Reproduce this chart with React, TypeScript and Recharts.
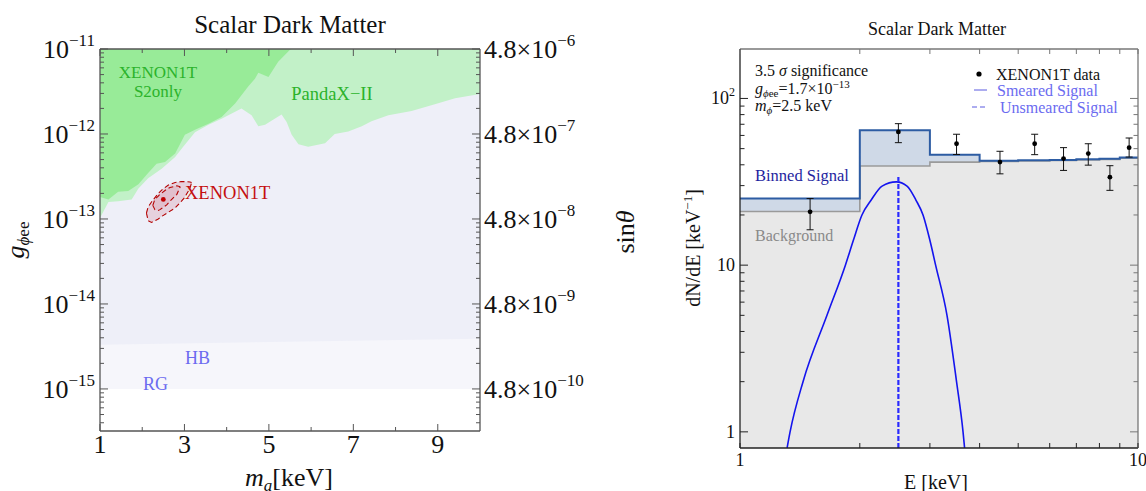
import React from 'react';
import { ComposedChart, Area, Line, Scatter, ErrorBar, XAxis, YAxis } from 'recharts';

const FONT = '"Liberation Serif", "Times New Roman", Times, serif';

// ---------- left panel: coupling vs. mass ----------
const massTicks = [1, 2, 3, 4, 5, 6, 7, 8, 9];
const massTickLabels = ['1', '', '3', '', '5', '', '7', '', '9'];
const gDecades = [-11, -12, -13, -14, -15];
const sinThetaMantissa = '4.8';
const sinThetaExponents = [-6, -7, -8, -9, -10];

// XENON1T S2-only exclusion: lower edge, log10 g (region runs up to the frame)
const s2onlyMass = [1.0, 1.2, 1.43, 1.67, 1.91, 2.14, 2.34, 2.54, 2.78, 3.01, 3.25, 3.57, 3.88, 4.2, 4.51, 4.67, 4.75, 4.99, 5.22, 5.5, 5.54];
const s2onlyLogG = [-12.74, -12.77, -12.68, -12.67, -12.59, -12.46, -12.35, -12.33, -12.23, -12.01, -11.95, -11.88, -11.8, -11.64, -11.44, -11.35, -11.28, -11.33, -11.15, -11.01, -11.0];

// PandaX-II exclusion: lower edge
const pandaxMass = [1.0, 1.2, 1.43, 1.75, 1.91, 2.14, 2.46, 2.78, 2.97, 3.25, 3.57, 3.88, 4.12, 4.35, 4.59, 4.75, 4.91, 5.07, 5.3, 5.42, 5.54, 5.7, 5.93, 6.33, 6.56, 6.88, 7.2, 7.43, 7.83, 8.38, 8.93, 9.41, 10.0];
const pandaxLogG = [-12.99, -12.8, -12.79, -12.77, -12.64, -12.52, -12.41, -12.27, -12.15, -11.98, -11.89, -11.82, -11.76, -11.7, -11.78, -11.91, -11.89, -11.84, -11.77, -11.86, -12.01, -12.12, -12.15, -12.11, -12.0, -11.97, -11.91, -11.85, -11.78, -11.73, -11.65, -11.58, -11.53];

// stellar cooling bounds (lower edges)
const hbMass = [1, 10];
const hbLogG = [-14.48, -14.41];
const rgMass = [1, 10];
const rgLogG = [-15, -15];
const frameTopLogG = -11;

// XENON1T best-fit contours (lower / upper edge)
const outerMass = [2.1, 2.14, 2.22, 2.38, 2.46, 2.62, 2.78, 2.93, 3.0, 3.13, 3.17];
const outerLow = [-12.93, -13.02, -13.04, -13.0, -12.97, -12.92, -12.87, -12.79, -12.75, -12.64, -12.57];
const outerHigh = [-12.93, -12.86, -12.8, -12.7, -12.66, -12.6, -12.57, -12.56, -12.56, -12.565, -12.57];
const innerMass = [2.25, 2.3, 2.38, 2.42, 2.58, 2.66, 2.82, 2.9];
const innerLow = [-12.84, -12.89, -12.9, -12.89, -12.835, -12.79, -12.71, -12.62];
const innerHigh = [-12.84, -12.77, -12.73, -12.71, -12.65, -12.63, -12.61, -12.62];
const bestFitMass = [2.5];
const bestFitG = [1.7e-13];

// ---------- right panel: spectrum ----------
const binEdges = [1, 2, 3, 4, 5, 6, 7, 8, 9, 10];
const signalRate = [25.1, 64.4, 46.0, 42.3, 42.6, 42.8, 43.2, 43.5, 44.2];
const backgroundRate = [21.0, 39.3, 41.5, 41.9, 42.2, 42.4, 42.8, 43.1, 43.8];
const dataEnergy = [1.5, 2.5, 3.5, 4.5, 5.5, 6.5, 7.5, 8.5, 9.5];
const dataRate = [20.9, 63.0, 53.5, 41.5, 53.5, 43.6, 46.7, 33.7, 50.7];
const dataLow = [16.3, 54.3, 46.1, 35.3, 46.0, 37.0, 39.8, 28.1, 44.5];
const dataHigh = [25.1, 70.6, 61.0, 48.2, 61.0, 50.7, 53.5, 39.5, 57.9];
const smearedEnergy = [1.313, 1.336, 1.44, 1.654, 1.84, 1.927, 2.025, 2.134, 2.275, 2.47, 2.628, 2.769, 2.883, 3.0, 3.101, 3.312, 3.5, 3.634, 3.667];
const smearedRate = [0.8, 1.0, 2.0, 5.0, 10, 14.1, 20, 24.5, 29.8, 31.6, 29.8, 24.5, 20, 14.1, 10, 5.0, 2.0, 1.0, 0.8];
const unsmearedEnergy = [2.5, 2.5];
const unsmearedRate = [0.8, 34];
const energyTicks = [1, 2, 3, 4, 5, 6, 7, 8, 9, 10];

// ---------- tables ----------
const band = (ms: number[], lo: number[], hi: number[]) =>
  ms.map((m, i) => ({ m, band: [10 ** lo[i], 10 ** hi[i]] }));
const toTop = (ms: number[]) => ms.map(() => frameTopLogG);

const rgData = band(rgMass, rgLogG, toTop(rgMass));
const hbData = band(hbMass, hbLogG, toTop(hbMass));
const pandaxData = band(pandaxMass, pandaxLogG, toTop(pandaxMass));
const s2onlyData = band(s2onlyMass, s2onlyLogG, toTop(s2onlyMass));
const outerData = band(outerMass, outerLow, outerHigh);
const innerData = band(innerMass, innerLow, innerHigh);
const bestFitData = bestFitMass.map((m, i) => ({ m, g: bestFitG[i] }));

const stepData = binEdges.map((e, i) => ({
  e,
  sig: signalRate[Math.min(i, signalRate.length - 1)],
  bg: backgroundRate[Math.min(i, backgroundRate.length - 1)],
}));
const pointData = dataEnergy.map((e, i) => ({ e, v: dataRate[i], err: [dataRate[i] - dataLow[i], dataHigh[i] - dataRate[i]] }));
const smearedData = smearedEnergy.map((e, i) => ({ e, v: smearedRate[i] }));
const unsmearedData = unsmearedEnergy.map((e, i) => ({ e, v: unsmearedRate[i] }));

const logTicks = (fromExp: number, toExp: number, min: number, max: number) => {
  const out: number[] = [];
  for (let d = fromExp; d <= toExp; d++) {
    for (let k = 1; k <= 9; k++) {
      const v = k * 10 ** d;
      if (v >= min * 0.999 && v <= max * 1.001) out.push(v);
    }
  }
  return out;
};
const isDecade = (v: number) => Math.abs(Math.log10(v) - Math.round(Math.log10(v))) < 1e-6;

const G_MIN = 3.2e-16;
const G_MAX = 1e-11;
const gTicks = logTicks(-16, -11, G_MIN, G_MAX);
const R_MIN = 0.8;
const R_MAX = 198;
const rateTicks = logTicks(0, 2, R_MIN, R_MAX);

const FRAME = '#555';

// ---------- tick renderers (ticks point into the frame) ----------
const gLeftTick = (p: any) => {
  const { x, y, payload } = p;
  const v = payload.value;
  const major = isDecade(v);
  const e = Math.round(Math.log10(v));
  return (
    <g>
      <line x1={x} y1={y} x2={x + (major ? 8 : 4)} y2={y} stroke={FRAME} />
      {major && (
        <text x={x - 5} y={y + 9} textAnchor="end" fontSize={26} fontFamily={FONT} fill="#111">
          10<tspan dy={-12} fontSize={17}>{`−${-e}`}</tspan>
        </text>
      )}
    </g>
  );
};

const sinThetaTick = (p: any) => {
  const { x, y, payload } = p;
  const v = payload.value;
  const major = isDecade(v);
  const idx = gDecades.indexOf(Math.round(Math.log10(v)));
  return (
    <g>
      <line x1={x} y1={y} x2={x - (major ? 8 : 4)} y2={y} stroke={FRAME} />
      {major && idx >= 0 && (
        <text x={x + 4} y={y + 9} textAnchor="start" fontSize={26} fontFamily={FONT} fill="#111">
          {sinThetaMantissa}×10<tspan dy={-12} fontSize={17}>{`−${-sinThetaExponents[idx]}`}</tspan>
        </text>
      )}
    </g>
  );
};

const massBottomTick = (p: any) => {
  const { x, y, payload } = p;
  const i = massTicks.indexOf(payload.value);
  const label = massTickLabels[i] || '';
  return (
    <g>
      <line x1={x} y1={y} x2={x} y2={y - (label ? 7 : 4)} stroke={FRAME} />
      {label && (
        <text x={x} y={y + 22} textAnchor="middle" fontSize={26} fontFamily={FONT} fill="#111">
          {label}
        </text>
      )}
    </g>
  );
};

const massTopTick = (p: any) => {
  const { x, y, payload } = p;
  const i = massTicks.indexOf(payload.value);
  const label = massTickLabels[i] || '';
  return <line x1={x} y1={y} x2={x} y2={y + (label ? 7 : 4)} stroke={FRAME} />;
};

const energyBottomTick = (p: any) => {
  const { x, y, payload } = p;
  const v = payload.value;
  const label = v === 1 || v === 10 ? String(v) : '';
  return (
    <g>
      <line x1={x} y1={y} x2={x} y2={y - 5} stroke="#222" />
      {label && (
        <text x={x} y={y + 18} textAnchor="middle" fontSize={18} fontFamily={FONT} fill="#111">
          {label}
        </text>
      )}
    </g>
  );
};

const energyTopTick = (p: any) => {
  const { x, y } = p;
  return <line x1={x} y1={y} x2={x} y2={y + 5} stroke="#777" />;
};

const rateLeftTick = (p: any) => {
  const { x, y, payload } = p;
  const v = payload.value;
  const major = isDecade(v);
  let label: React.ReactNode = null;
  if (v === 1) label = '1';
  else if (v === 10) label = '10';
  else if (v === 100) label = (<>10<tspan dy={-8} fontSize={12}>2</tspan></>);
  return (
    <g>
      <line x1={x} y1={y} x2={x + (major ? 8 : 4.5)} y2={y} stroke="#222" />
      {label && (
        <text x={x - 5} y={y + 6} textAnchor="end" fontSize={18} fontFamily={FONT} fill="#111">
          {label}
        </text>
      )}
    </g>
  );
};

const rateRightTick = (p: any) => {
  const { x, y, payload } = p;
  const major = isDecade(payload.value);
  return <line x1={x} y1={y} x2={x - (major ? 8 : 4.5)} y2={y} stroke="#777" />;
};

const dataDot = (p: any) => <circle cx={p.cx} cy={p.cy} r={2.4} fill="#000" />;
const bestDot = (p: any) => <circle cx={p.cx} cy={p.cy} r={2.4} fill="#c00000" />;

const CONTOUR = '#b30000';
const GREEN_TEXT = '#2bb32b';
const BLUE_TEXT = '#6b6bf0';

const LEFT_MARGIN = { top: 39, right: 30, bottom: 30, left: 40 };
const RIGHT_MARGIN = { top: 39, right: 0, bottom: 13, left: 70 };

// axes for the left panel; drawn twice: under the series (for the scales) and on top (for the ticks)
const couplingAxes = (show: boolean) => {
  const line = show ? { stroke: FRAME, strokeWidth: 1.3 } : false;
  const common = { type: 'number' as const, allowDataOverflow: true, interval: 0 as const, tickLine: false, tickSize: 0, tickMargin: 0, axisLine: line };
  return [
    <XAxis key="xb" dataKey="m" domain={[1, 10]} ticks={massTicks} height={30} {...common} tick={show ? massBottomTick : false} />,
    <XAxis key="xt" xAxisId="top" orientation="top" dataKey="m" domain={[1, 10]} ticks={massTicks} height={10} {...common} tick={show ? massTopTick : false} />,
    <YAxis key="yl" yAxisId="g" scale="log" domain={[G_MIN, G_MAX]} ticks={gTicks} width={60} {...common} tick={show ? gLeftTick : false} />,
    <YAxis key="yr" yAxisId="s" orientation="right" scale="log" domain={[G_MIN, G_MAX]} ticks={gTicks} width={110} {...common} tick={show ? sinThetaTick : false} />,
  ];
};

const spectrumAxes = (show: boolean) => {
  const common = { type: 'number' as const, scale: 'log' as const, allowDataOverflow: true, interval: 0 as const, tickLine: false, tickSize: 0, tickMargin: 0 };
  return [
    <XAxis key="xb" dataKey="e" domain={[1, 10]} ticks={energyTicks} height={30} {...common}
      axisLine={show ? { stroke: '#222', strokeWidth: 1.3 } : false} tick={show ? energyBottomTick : false} />,
    <XAxis key="xt" xAxisId="top" orientation="top" dataKey="e" domain={[1, 10]} ticks={energyTicks} height={10} {...common}
      axisLine={show ? { stroke: '#777', strokeWidth: 1.3 } : false} tick={show ? energyTopTick : false} />,
    <YAxis key="yl" domain={[R_MIN, R_MAX]} ticks={rateTicks} width={50} {...common}
      axisLine={show ? { stroke: '#222', strokeWidth: 1.3 } : false} tick={show ? rateLeftTick : false} />,
    <YAxis key="yr" yAxisId="r" orientation="right" domain={[R_MIN, R_MAX]} ticks={rateTicks} width={8} {...common}
      axisLine={show ? { stroke: '#777', strokeWidth: 1.3 } : false} tick={show ? rateRightTick : false} />,
  ];
};

function CouplingChart() {
  return (
    <ComposedChart width={620} height={491} margin={LEFT_MARGIN}>
      <Area data={rgData} dataKey="band" yAxisId="g" type="linear" fill="#f6f6fb" fillOpacity={1} stroke="none" isAnimationActive={false} />
      <Area data={hbData} dataKey="band" yAxisId="g" type="linear" fill="#eeeff8" fillOpacity={1} stroke="none" isAnimationActive={false} />
      <Area data={pandaxData} dataKey="band" yAxisId="g" type="linear" fill="#c2f1c8" fillOpacity={1} stroke="none" isAnimationActive={false} />
      <Area data={s2onlyData} dataKey="band" yAxisId="g" type="linear" fill="#98eb98" fillOpacity={1} stroke="none" isAnimationActive={false} />
      <Area data={outerData} dataKey="band" yAxisId="g" type="linear" fill="#d9a5b5" fillOpacity={0.4} stroke={CONTOUR} strokeWidth={1.1} strokeDasharray="5 3" isAnimationActive={false} />
      <Area data={innerData} dataKey="band" yAxisId="g" type="linear" fill="#d9a5b5" fillOpacity={0.4} stroke={CONTOUR} strokeWidth={1.1} strokeDasharray="5 3" isAnimationActive={false} />
      <Scatter data={bestFitData} dataKey="g" yAxisId="g" shape={bestDot} isAnimationActive={false} />
      {couplingAxes(false)}
    </ComposedChart>
  );
}

function CouplingFrame() {
  return (
    <ComposedChart width={620} height={491} margin={LEFT_MARGIN} data={[{ m: 1 }, { m: 10 }]}>
      {couplingAxes(true)}
    </ComposedChart>
  );
}

function SpectrumChart() {
  return (
    <ComposedChart width={526} height={491} margin={RIGHT_MARGIN}>
      <Area data={stepData} dataKey="bg" type="stepAfter" baseValue="dataMin" fill="#e8e8e8" fillOpacity={1} stroke="none" isAnimationActive={false} />
      <Area data={stepData} dataKey={(d: any) => [d.bg, d.sig]} type="stepAfter" fill="#cfd9e7" fillOpacity={1} stroke="none" isAnimationActive={false} />
      <Line data={stepData} dataKey="bg" type="stepAfter" stroke="#9a9a9a" strokeWidth={1.6} dot={false} isAnimationActive={false} />
      <Line data={stepData} dataKey="sig" type="stepAfter" stroke="#2d5ca3" strokeWidth={2} dot={false} isAnimationActive={false} />
      <Line data={smearedData} dataKey="v" type="monotone" stroke="#1414ee" strokeWidth={1.6} dot={false} isAnimationActive={false} />
      <Line data={unsmearedData} dataKey="v" type="linear" stroke="#2a2aff" strokeWidth={2.2} strokeDasharray="5 2" dot={false} isAnimationActive={false} />
      <Scatter data={pointData} dataKey="v" shape={dataDot} isAnimationActive={false}>
        <ErrorBar dataKey="err" direction="y" width={3.5} stroke="#111" strokeWidth={1} />
      </Scatter>
      {spectrumAxes(false)}
    </ComposedChart>
  );
}

function SpectrumFrame() {
  return (
    <ComposedChart width={526} height={491} margin={RIGHT_MARGIN} data={[{ e: 1 }, { e: 10 }]}>
      {spectrumAxes(true)}
    </ComposedChart>
  );
}

function Labels() {
  return (
    <svg width={1146} height={491} style={{ position: 'absolute', left: 0, top: 0, pointerEvents: 'none' }} fontFamily={FONT}>
      {/* left panel */}
      <text x={290} y={33} textAnchor="middle" fontSize={25} fill="#111">Scalar Dark Matter</text>
      <text x={158} y={78} textAnchor="middle" fontSize={17} fill={GREEN_TEXT}>XENON1T</text>
      <text x={158} y={97} textAnchor="middle" fontSize={17} fill={GREEN_TEXT}>S2only</text>
      <text x={332} y={100} textAnchor="middle" fontSize={18.5} fill={GREEN_TEXT}>PandaX−II</text>
      <text x={185} y={199} fontSize={18.5} fill="#c41010">XENON1T</text>
      <text x={185} y={364} fontSize={18} fill={BLUE_TEXT}>HB</text>
      <text x={143} y={390} fontSize={18} fill={BLUE_TEXT}>RG</text>
      <text x={289} y={486} textAnchor="middle" fontSize={26} fill="#111">
        <tspan fontStyle="italic">m</tspan>
        <tspan fontStyle="italic" fontSize={17} dy={5}>a</tspan>
        <tspan dy={-5}>[keV]</tspan>
      </text>
      <text transform="translate(24,240) rotate(-90)" textAnchor="middle" fontSize={26} fill="#111">
        <tspan fontStyle="italic">g</tspan>
        <tspan fontSize={17} dy={5}><tspan fontStyle="italic">ϕ</tspan>ee</tspan>
      </text>
      <text transform="translate(634,232) rotate(-90)" textAnchor="middle" fontSize={26} fill="#111">
        sin<tspan fontStyle="italic">θ</tspan>
      </text>

      {/* right panel */}
      <text x={937} y={35} textAnchor="middle" fontSize={18} fill="#111">Scalar Dark Matter</text>
      <text x={755} y={76} fontSize={16} fill="#111">3.5 <tspan fontStyle="italic">σ</tspan> significance</text>
      <text x={755} y={94} fontSize={16} fill="#111">
        <tspan fontStyle="italic">g</tspan>
        <tspan fontSize={11} dy={3}><tspan fontStyle="italic">ϕ</tspan>ee</tspan>
        <tspan dy={-3}>=1.7×10</tspan>
        <tspan fontSize={11} dy={-6}>−13</tspan>
      </text>
      <text x={755} y={111} fontSize={16} fill="#111">
        <tspan fontStyle="italic">m</tspan>
        <tspan fontSize={11} dy={3} fontStyle="italic">ϕ</tspan>
        <tspan dy={-3}>=2.5 keV</tspan>
      </text>
      <circle cx={979} cy={74} r={2.6} fill="#000" />
      <text x={996} y={79.5} fontSize={16} fill="#111">XENON1T data</text>
      <line x1={974} y1={90} x2={987} y2={90} stroke="#5a5ae0" strokeWidth={1} />
      <text x={997} y={95.5} fontSize={16} fill={BLUE_TEXT}>Smeared Signal</text>
      <line x1={972} y1={107} x2={988} y2={107} stroke="#5a5ae0" strokeWidth={1} strokeDasharray="5 3" />
      <text x={1000} y={112.5} fontSize={16} fill={BLUE_TEXT}>Unsmeared Signal</text>
      <text x={755} y={181} fontSize={16.5} fill="#1f1fa0">Binned Signal</text>
      <text x={755} y={240.5} fontSize={16} fill="#8a8a8a">Background</text>
      <text transform="translate(700,248) rotate(-90)" textAnchor="middle" fontSize={20} fill="#111">
        dN/dE [keV<tspan fontSize={13} dy={-8}>−1</tspan><tspan dy={8}>]</tspan>
      </text>
      <text x={936} y={489} textAnchor="middle" fontSize={20} fill="#111">E [keV]</text>
    </svg>
  );
}

export default function App() {
  return (
    <div style={{ position: 'absolute', left: 0, top: 0, width: 1146, height: 491, overflow: 'hidden', background: '#fff', fontFamily: FONT }}>
      <div style={{ position: 'absolute', left: 0, top: 0 }}>
        <CouplingChart />
      </div>
      <div style={{ position: 'absolute', left: 0, top: 0 }}>
        <CouplingFrame />
      </div>
      <div style={{ position: 'absolute', left: 620, top: 0 }}>
        <SpectrumChart />
      </div>
      <div style={{ position: 'absolute', left: 620, top: 0 }}>
        <SpectrumFrame />
      </div>
      <Labels />
    </div>
  );
}
